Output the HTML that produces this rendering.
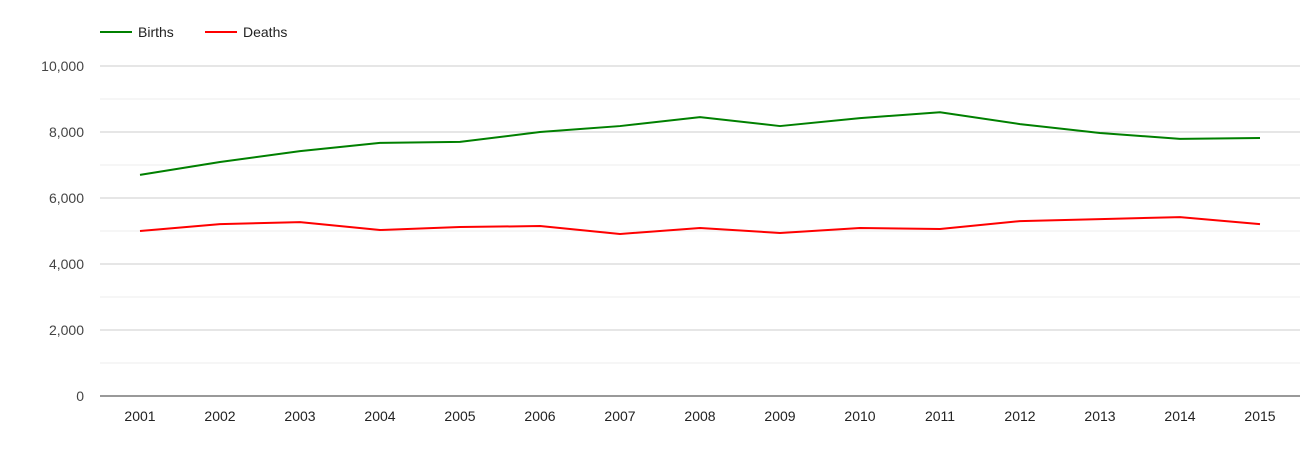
<!DOCTYPE html>
<html><head><meta charset="utf-8">
<style>
html,body{margin:0;padding:0;background:#fff;}
svg{display:block;font-family:"Liberation Sans",Arial,sans-serif;}
</style></head>
<body>
<svg id="chart" width="1305" height="450">
  <g id="grid"></g>
  <g id="yticks"></g>
  <g id="xticks"></g>
  <g id="series"></g>
  <g>
    <g>
      <line x1="100" y1="32" x2="132" y2="32" stroke="#008000" stroke-width="2"/>
      <text x="138" y="37" font-size="14" fill="#222">Births</text>
    </g>
    <g>
      <line x1="205" y1="32" x2="237" y2="32" stroke="#ff0000" stroke-width="2"/>
      <text x="243" y="37" font-size="14" fill="#222">Deaths</text>
    </g>
  </g>
</svg>
<script>
const years = ["2001","2002","2003","2004","2005","2006","2007","2008","2009","2010","2011","2012","2013","2014","2015"];
const births = [6700,7090,7420,7670,7700,8000,8180,8450,8180,8420,8600,8240,7970,7790,7820];
const deaths = [5000,5210,5270,5030,5120,5150,4910,5090,4940,5090,5060,5300,5360,5420,5210];
const yTicks = [0,2000,4000,6000,8000,10000];
const yMinor = [1000,3000,5000,7000,9000];

const NS = "http://www.w3.org/2000/svg";
const left = 100, right = 1300, y0 = 396, yTop = 66, yMax = 10000;
const x0 = 140, xStep = 80;
const xs = i => x0 + i * xStep;
const ys = v => y0 - (v / yMax) * (y0 - yTop);
function mk(tag, attrs, parent) {
  const e = document.createElementNS(NS, tag);
  for (const k in attrs) e.setAttribute(k, attrs[k]);
  parent.appendChild(e);
  return e;
}
const grid = document.getElementById("grid");
yMinor.forEach(v => {
  const l = mk("line", {x1: left, x2: right, y1: ys(v), y2: ys(v), stroke: "#ececec", "stroke-width": 1}, grid);
  
  
});
const yt = document.getElementById("yticks");
yTicks.forEach(v => {
  const l = mk("line", {x1: left, x2: right, y1: ys(v), y2: ys(v), stroke: v === 0 ? "#333" : "#cccccc", "stroke-width": 1}, grid);
  
  
  const t = mk("text", {x: 84, y: ys(v) + 5, "text-anchor": "end", "font-size": 14, fill: "#444"}, yt);
  t.textContent = v.toLocaleString("en-US");
  
  
});
const xt = document.getElementById("xticks");
years.forEach((y, i) => {
  const t = mk("text", {x: xs(i), y: 421, "text-anchor": "middle", "font-size": 14, fill: "#222"}, xt);
  t.textContent = y;
  
  
});
const sg = document.getElementById("series");
function line(vals, color, name) {
  const p = mk("polyline", {points: vals.map((v, i) => xs(i) + "," + ys(v)).join(" "), fill: "none", stroke: color, "stroke-width": 2, "stroke-linejoin": "round"}, sg);
  
  
}
line(births, "#008000", "births-line");
line(deaths, "#ff0000", "deaths-line");
</script>
</body></html>
